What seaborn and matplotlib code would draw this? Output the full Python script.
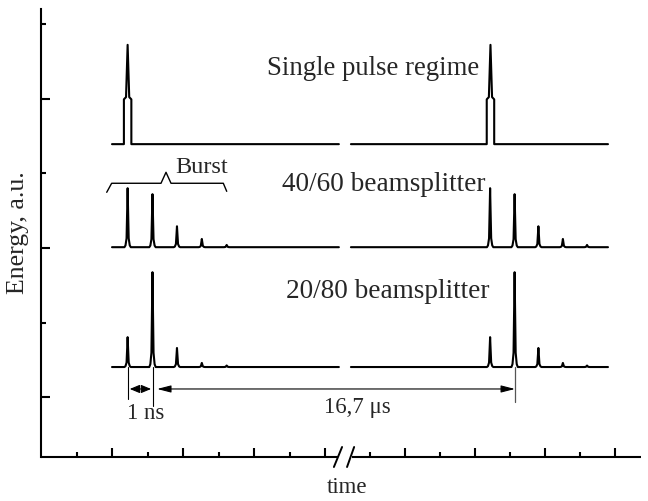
import numpy as np
import pandas as pd
import matplotlib
matplotlib.use("Agg")
import matplotlib.pyplot as plt
import seaborn as sns

# ---------------- data (schematic) ----------------
segment_starts = [2.0, 8.73]          # time-axis segments (left / right of the break)
segment_ends = [8.39, 15.97]

single_baseline = 3.39
single_centers = [2.44, 12.66]
single_pedestal = 0.60
single_peak = 1.33

burst_times_left = [2.44, 3.14, 3.83, 4.53, 5.23]
burst_times_right = [12.65, 13.34, 14.01, 14.70, 15.38]

bs4060_baseline = 2.01
bs4060_heights = [0.79, 0.71, 0.28, 0.11, 0.03]

bs2080_baseline = 0.405
bs2080_heights = [0.40, 1.27, 0.255, 0.055, 0.02]

x_major_ticks = [2, 4, 6, 8, 10.25, 12.23, 14.2, 16.17]
x_minor_ticks = [1, 3, 5, 7, 9.27, 11.24, 13.21, 15.18]
y_major_ticks = [0, 2, 4]
y_minor_ticks = [1, 3, 5]

labels = ["Single pulse regime", "40/60 beamsplitter", "20/80 beamsplitter"]

# ---------------- build trace vertices ----------------
k_off = np.array([-0.09, -0.06, -0.03, -0.012, 0.0, 0.012, 0.03, 0.06, 0.09])
k_frac = np.array([0.0, 0.03, 0.15, 0.65, 1.0, 0.65, 0.15, 0.03, 0.0])

rows = []


def add_burst(name, base, times_l, times_r, heights):
    for seg, times in enumerate([times_l, times_r]):
        xs = [segment_starts[seg]]
        ys = [base]
        for t, h in zip(times, heights):
            xs += list(t + k_off)
            ys += list(base + h * k_frac)
        xs.append(segment_ends[seg])
        ys.append(base)
        for i, (x, y) in enumerate(zip(xs, ys)):
            rows.append(dict(trace=name, unit=f"{name}-{seg}", order=i, x=x, y=y))


def add_single(name, base):
    w = 0.105
    for seg, c in enumerate(single_centers):
        xs = [segment_starts[seg], c - w, c - w, c - 0.045, c, c + 0.045, c + w, c + w, segment_ends[seg]]
        ys = [base, base, base + single_pedestal, base + single_pedestal + 0.03,
              base + single_peak, base + single_pedestal + 0.03, base + single_pedestal, base, base]
        for i, (x, y) in enumerate(zip(xs, ys)):
            rows.append(dict(trace=name, unit=f"{name}-{seg}", order=i, x=x, y=y))


add_single(labels[0], single_baseline)
add_burst(labels[1], bs4060_baseline, burst_times_left, burst_times_right, bs4060_heights)
add_burst(labels[2], bs2080_baseline, burst_times_left, burst_times_right, bs2080_heights)
df = pd.DataFrame(rows)

# ---------------- plot ----------------
sns.set_theme(style="white")
plt.rcParams["font.family"] = ["Liberation Serif", "DejaVu Serif"]
plt.rcParams["mathtext.fontset"] = "stix"

fig = plt.figure(figsize=(6.48, 5.02), dpi=100)
ax = fig.add_axes([41 / 648, 1 - 458 / 502, 600 / 648, 448 / 502])

sns.lineplot(data=df, x="x", y="y", units="unit", estimator=None, sort=False,
             color="black", linewidth=1.5, ax=ax, legend=False)

ax.set_xlim(0, 16.9)
ax.set_ylim(-0.8, 5.2)
ax.set_xlabel("")
ax.set_ylabel("")

for s in ["top", "right", "bottom"]:
    ax.spines[s].set_visible(False)
ax.spines["left"].set_linewidth(1.5)
ax.spines["left"].set_color("black")

ax.set_xticks(x_major_ticks)
ax.set_xticks(x_minor_ticks, minor=True)
ax.set_yticks(y_major_ticks)
ax.set_yticks(y_minor_ticks, minor=True)
ax.set_xticklabels([])
ax.set_yticklabels([])
ax.tick_params(which="major", direction="in", length=6.5, width=1.5, color="black",
               bottom=True, left=True)
ax.tick_params(which="minor", direction="in", length=3.5, width=1.5, color="black",
               bottom=True, left=True)

# broken bottom axis
ax.plot([0, 8.37], [-0.8, -0.8], color="black", lw=1.5, clip_on=False, solid_capstyle="butt")
ax.plot([8.76, 16.9], [-0.8, -0.8], color="black", lw=1.5, clip_on=False, solid_capstyle="butt")
ax.plot([8.25, 8.48], [-0.934, -0.666], color="black", lw=1.4, clip_on=False)
ax.plot([8.62, 8.82], [-0.934, -0.666], color="black", lw=1.4, clip_on=False)

# labels of traces
ax.text(9.35, 4.42, labels[0], fontsize=19.3, ha="center", va="center")
ax.text(9.66, 2.86, labels[1], fontsize=19.6, ha="center", va="center")
ax.text(9.76, 1.43, labels[2], fontsize=19.6, ha="center", va="center")

# Burst brace
bx = [1.851, 1.99, 3.38, 3.521, 3.662, 5.135, 5.231]
by = [2.745, 2.866, 2.866, 3.013, 2.866, 2.866, 2.758]
ax.plot(bx, by, color="black", lw=1.0)
ax.text(4.52, 3.09, "Burst", fontsize=17.5, ha="center", va="center")

# dimension lines
ax.plot([2.437, 2.437], [0.405, -0.023], color="black", lw=0.8)
ax.plot([3.146, 3.146], [0.405, -0.117], color="black", lw=0.8)
ax.plot([13.352, 13.352], [0.405, -0.063], color="#555555", lw=0.9)

ax.annotate("", xy=(2.50, 0.111), xytext=(3.10, 0.111),
            arrowprops=dict(arrowstyle="<|-|>,head_length=0.6,head_width=0.25",
                            mutation_scale=10, color="black", lw=0.8, shrinkA=0, shrinkB=0))
ax.annotate("", xy=(3.27, 0.111), xytext=(13.35, 0.111),
            arrowprops=dict(arrowstyle="<|-|>,head_length=0.7,head_width=0.18",
                            mutation_scale=12, color="black", lw=0.8, shrinkA=0, shrinkB=0))

ax.text(2.96, -0.20, "1 ns", fontsize=16.5, ha="center", va="center")
ax.text(8.90, -0.13, "16,7 μs", fontsize=16.5, ha="center", va="center")

# axis titles
fig.text(18 / 648, 1 - 233 / 502, "Energy, a.u.", rotation=90, fontsize=18.5,
         ha="center", va="center")
fig.text(347 / 648, 1 - 488 / 502, "time", fontsize=16.5, ha="center", va="center")

fig.savefig("out.png", dpi=100)
